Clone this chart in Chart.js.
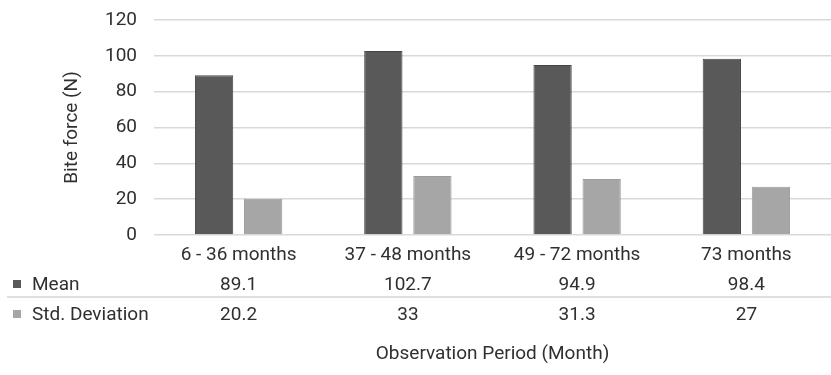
<!DOCTYPE html>
<html>
<head>
<meta charset="utf-8">
<script src="https://cdn.jsdelivr.net/npm/chart.js@4"></script>
<style>
  html, body { margin: 0; padding: 0; background: #fff; }
  #wrap { width: 831px; height: 375px; }
</style>
</head>
<body>
<div id="wrap"><canvas id="biteChart" width="831" height="375"></canvas></div>
<script>
// periode observasi dan nilai gaya gigit
const periods = ['6 - 36 months', '37 - 48 months', '49 - 72 months', '73 months'];
const meanValues = [89.1, 102.7, 94.9, 98.4];
const sdValues = [20.2, 33, 31.3, 27];
const yTicks = [0, 20, 40, 60, 80, 100, 120];

const FONT = 'Roboto, "Liberation Sans", Arial, sans-serif';
const FONT_SIZE = 19;
const TEXT_COLOR = '#303030';
const DARK = '#595959';
const LIGHT = '#a6a6a6';

// tabel data di bawah sumbu x (seperti data table Excel)
const dataTablePlugin = {
  id: 'dataTable',
  afterDraw(chart) {
    const ctx = chart.ctx;
    const xScale = chart.scales.x;
    const bottom = chart.chartArea.bottom;
    const rows = chart.data.datasets.map((ds, i) => ({
      label: ds.label,
      color: ds.backgroundColor,
      values: ds.data,
      y: bottom + 50 + i * 30
    }));

    ctx.save();
    ctx.font = FONT_SIZE + 'px ' + FONT;
    ctx.textBaseline = 'middle';

    rows.forEach(row => {
      // kotak warna seri
      ctx.fillStyle = row.color;
      ctx.fillRect(13, row.y - 5, 8, 8);

      ctx.fillStyle = TEXT_COLOR;
      ctx.textAlign = 'left';
      ctx.fillText(row.label, 32, row.y);

      ctx.textAlign = 'center';
      row.values.forEach((v, idx) => {
        ctx.fillText(String(v), xScale.getPixelForValue(idx), row.y);
      });
    });

    // garis pemisah antar baris
    ctx.strokeStyle = '#d4d4d4';
    ctx.lineWidth = 1.5;
    ctx.beginPath();
    ctx.moveTo(7, bottom + 62);
    ctx.lineTo(chart.width, bottom + 62);
    ctx.stroke();
    ctx.restore();
  }
};

const ctx = document.getElementById('biteChart').getContext('2d');
const biteChart = new Chart(ctx, {
  type: 'bar',
  data: {
    labels: periods,
    datasets: [
      {
        label: 'Mean',
        data: meanValues,
        backgroundColor: DARK,
        borderColor: '#454545',
        borderWidth: 1
      },
      {
        label: 'Std. Deviation',
        data: sdValues,
        backgroundColor: LIGHT,
        borderColor: '#9c9c9c',
        borderWidth: 1
      }
    ]
  },
  options: {
    responsive: false,
    animation: false,
    devicePixelRatio: 1,
    layout: {
      padding: { top: 20, right: 0, bottom: 0, left: 0 }
    },
    datasets: {
      bar: {
        categoryPercentage: 0.58,
        barPercentage: 0.78
      }
    },
    plugins: {
      legend: { display: false },
      tooltip: { enabled: false }
    },
    scales: {
      x: {
        afterFit(scale) {
          // sisakan ruang untuk tabel data dan judul sumbu
          scale.height = 140;
        },
        grid: { display: false, drawTicks: false, tickLength: 0 },
        border: { display: false },
        ticks: {
          color: TEXT_COLOR,
          font: { family: FONT, size: FONT_SIZE },
          padding: 9,
          maxRotation: 0
        },
        title: {
          display: true,
          text: 'Observation Period (Month)',
          color: TEXT_COLOR,
          font: { family: FONT, size: FONT_SIZE },
          padding: { top: 60, bottom: 9 }
        }
      },
      y: {
        min: 0,
        max: 120,
        afterBuildTicks(scale) {
          scale.ticks = yTicks.map(v => ({ value: v }));
        },
        afterFit(scale) {
          scale.width = 154;
          scale.paddingTop = 0;
          scale.paddingBottom = 0;
        },
        grid: {
          color: '#d9d9d9',
          lineWidth: 1.5,
          drawTicks: false
        },
        border: { display: false },
        ticks: {
          color: TEXT_COLOR,
          font: { family: FONT, size: FONT_SIZE },
          padding: 17
        },
        title: {
          display: true,
          text: 'Bite force (N)',
          color: TEXT_COLOR,
          font: { family: FONT, size: FONT_SIZE },
          padding: { top: 61, bottom: 0 }
        }
      }
    }
  },
  plugins: [dataTablePlugin]
});
</script>
</body>
</html>
